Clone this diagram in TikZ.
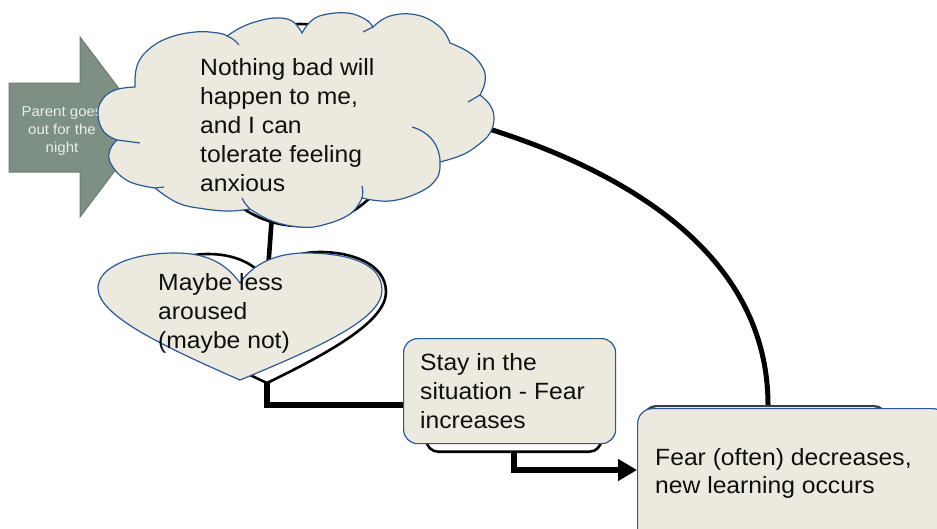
\documentclass[tikz,border=0pt]{standalone}
\usepackage{fontspec}
\setmainfont{Liberation Sans}[FakeStretch=1.05]
\usetikzlibrary{arrows.meta}
\definecolor{beige}{RGB}{236,234,223}
\definecolor{shapeblue}{RGB}{44,90,150}
\definecolor{arrowgray}{RGB}{126,144,132}
\definecolor{arrowedge}{RGB}{108,124,113}
\definecolor{arrowtext}{RGB}{234,238,234}
\definecolor{inktext}{RGB}{15,15,15}
\definecolor{shadowgray}{RGB}{60,60,60}
\tikzset{
  beigeshape/.style={draw=shapeblue, line width=1.2pt, fill=beige},
  crease/.style={draw=shapeblue, line width=1.2pt},
  shadowshape/.style={draw=black, line width=2.6pt, fill=white},
  conn/.style={draw=black, line width=5.3pt},
  bigtext/.style={anchor=north west, inner sep=0pt, align=left, text=inktext,
    font=\fontsize{23.5}{29}\selectfont},
  boxnode/.style={beigeshape, rectangle, rounded corners=14pt, anchor=north west, inner sep=0pt}
}
\begin{document}
\begin{tikzpicture}[x=1pt,y=-1pt]
\useasboundingbox (0,0) rectangle (937,528);
\clip (0,0) rectangle (937,528);
\fill[white] (0,0) rectangle (937,528);

% gray block arrow
\path[fill=arrowgray, draw=arrowedge, line width=1pt]
  (9,83) -- (80,83) -- (80,37) -- (148,127) -- (80,217) -- (80,172) -- (9,172) -- cycle;
\node[anchor=north, inner sep=0pt, align=center, text=arrowtext,
  font=\fontsize{14.3}{18}\selectfont] (parent) at (62,106.2) {Parent goes\\out for the\\night};

% shape hidden behind the cloud
\node[circle, shadowshape, minimum size=202pt, inner sep=0pt] (oldshape) at (300,125) {};

% connectors that run under the shapes
\coordinate (cloudb) at (272,215);
\coordinate (heartt) at (268,270);
\draw[conn, line width=4.6pt] (cloudb) -- (heartt);
\coordinate (cloudr) at (486,128);
\coordinate (fearshtop) at (768,405);
\draw[conn, line width=5pt] (cloudr) .. controls (640,176) and (768,262) .. (fearshtop);

% cloud
\path[beigeshape]
  plot[smooth, tension=0.7] coordinates {(135,87) (137,66) (148,50) (168,38) (195,32) (218,33) (227,36)}
  -- plot[smooth, tension=0.7] coordinates {(227,36) (240,28) (255,22) (275,18) (292,21) (302,33)}
  -- plot[smooth, tension=0.7] coordinates {(302,33) (310,22) (323,15) (347,13) (365,19) (373,27)}
  -- plot[smooth, tension=0.7] coordinates {(373,27) (390,16) (417,15) (440,27) (450,43)}
  -- plot[smooth, tension=0.7] coordinates {(450,43) (470,53) (483,68) (485,82) (480,95)}
  -- plot[smooth, tension=0.7] coordinates {(480,95) (490,105) (494,118) (490,133) (478,145) (462,155) (440,162)}
  -- plot[smooth, tension=0.7] coordinates {(440,162) (437,178) (420,192) (390,201) (362,198)}
  -- plot[smooth, tension=0.7] coordinates {(362,198) (350,214) (323,225) (300,227) (272,221) (250,209)}
  -- plot[smooth, tension=0.7] coordinates {(250,209) (230,211) (205,209) (178,203) (155,188)}
  -- plot[smooth, tension=0.7] coordinates {(155,188) (128,181) (111,164) (110,150) (117,140)}
  -- plot[smooth, tension=0.7] coordinates {(117,140) (104,132) (98,115) (102,100) (115,90) (135,87)}
  -- cycle;
% cloud creases
\draw[crease] (227,36) .. controls (232,38) and (236,41) .. (239,45);
\draw[crease] (373,27) -- (363,32);
\draw[crease] (480,95) -- (468,102);
\draw[crease] (440,162) .. controls (440,146) and (430,132) .. (412,127);
\draw[crease] (362,198) .. controls (363,194) and (363,190) .. (362,186);
\draw[crease] (250,209) .. controls (246,205) and (244,202) .. (242,198);
\draw[crease] (155,188) -- (164,187);
\draw[crease] (117,140) .. controls (125,141) and (133,142) .. (140,143);
\node[bigtext] (thought) at (200,57.8) {Nothing bad will\\happen to me,\\and I can\\tolerate feeling\\anxious};

% connector from heart to stay box
\coordinate (shtip) at (267,380);
\coordinate (stayin) at (406,405);
\draw[conn] (shtip) |- (stayin);

% heart shadow and heart
\path[shadowshape]
  (263,276) .. controls (252,262) and (232,254) .. (208,254)
  .. controls (175,254) and (150,272) .. (150,295)
  .. controls (150,320) and (200,352) .. (267,383)
  .. controls (335,350) and (386,320) .. (386,292)
  .. controls (386,264) and (352,252) .. (320,252)
  .. controls (295,252) and (275,262) .. (263,276) -- cycle;
\path[beigeshape]
  (240,283) .. controls (225,262) and (205,253) .. (175,253)
  .. controls (130,253) and (98,268) .. (98,288)
  .. controls (98,315) and (160,345) .. (240,380)
  .. controls (325,345) and (382,318) .. (382,290)
  .. controls (382,262) and (345,253) .. (305,253)
  .. controls (275,253) and (252,265) .. (240,283) -- cycle;
\node[bigtext] (arousal) at (158,272.8) {Maybe less\\aroused\\(maybe not)};

% stay box with its shadow
\node[shadowshape, rectangle, rounded corners=12pt, anchor=south west, inner sep=0pt,
  minimum width=175pt, minimum height=60pt] (stayshadow) at (425,453) {};
\node[boxnode, minimum width=212pt, minimum height=105pt] (stay) at (403,338) {};
\node[bigtext] (staytext) at (420,352.8) {Stay in the\\situation - Fear\\increases};

% fear box with its shadow
\node[rectangle, draw=shadowgray, line width=2.2pt, fill=white, rounded corners=12pt,
  anchor=north west, inner sep=0pt, minimum width=242pt, minimum height=140pt] (fearshadow) at (643,405) {};
\node[boxnode, rounded corners=15pt, minimum width=310pt, minimum height=160pt] (fear) at (637,408) {};
\node[bigtext, font=\fontsize{23.5}{28}\selectfont] (feartext) at (655,447.8) {Fear (often) decreases,\\new learning occurs};

% arrow into the fear box
\coordinate (fearin) at (637,470);
\draw[conn, line width=5.5pt, -{Triangle[length=19pt,width=21pt]}] (stayshadow.south) |- (fearin);
\end{tikzpicture}
\end{document}
